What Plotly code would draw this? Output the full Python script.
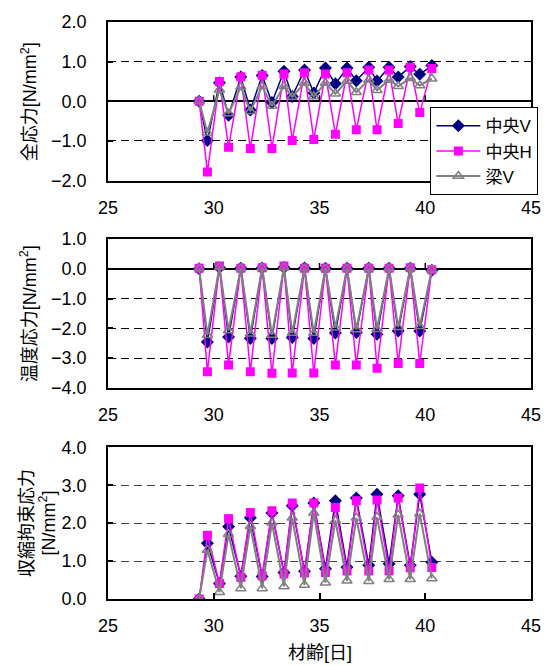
import plotly.graph_objects as go

# ---- data ----
age = [29.31, 29.70, 30.27, 30.70, 31.28, 31.73, 32.29, 32.75, 33.32, 33.71, 34.29, 34.73,
       35.28, 35.75, 36.30, 36.74, 37.33, 37.72, 38.29, 38.72, 39.29, 39.74, 40.31]

total_cv = [0, -0.99, 0.47, -0.35, 0.61, -0.22, 0.65, -0.03, 0.76, 0.12, 0.79, 0.21,
            0.84, 0.44, 0.84, 0.52, 0.86, 0.51, 0.86, 0.61, 0.88, 0.68, 0.90]
total_ch = [0, -1.78, 0.50, -1.16, 0.62, -1.19, 0.66, -1.19, 0.69, -0.99, 0.72, -0.96,
            0.69, -0.83, 0.72, -0.72, 0.79, -0.72, 0.79, -0.56, 0.86, -0.28, 0.83]
total_bv = [0, -0.79, 0.29, -0.31, 0.36, -0.25, 0.38, -0.12, 0.38, 0.11, 0.46, 0.12,
            0.46, 0.19, 0.51, 0.23, 0.54, 0.28, 0.54, 0.38, 0.58, 0.40, 0.57]

temp_cv = [0, -2.46, 0.05, -2.29, 0.02, -2.34, 0.03, -2.34, 0.05, -2.31, 0.03, -2.34,
           0.02, -2.16, 0.02, -2.14, 0.02, -2.20, 0.02, -2.09, 0.02, -2.09, -0.05]
temp_ch = [0.02, -3.46, 0.10, -3.23, 0.02, -3.46, 0.04, -3.51, 0.10, -3.50, 0.02, -3.50,
           0.02, -3.23, 0.02, -3.23, 0.02, -3.34, 0.02, -3.18, 0.04, -3.18, -0.03]
temp_bv = [0.02, -2.23, 0.07, -2.07, 0.02, -2.18, 0.04, -2.22, 0.05, -2.16, 0.02, -2.16,
           0.02, -1.98, 0.02, -2.04, 0.02, -2.03, 0.02, -1.96, 0.02, -1.93, -0.03]

shr_cv = [0, 1.47, 0.41, 1.91, 0.60, 2.14, 0.59, 2.27, 0.70, 2.46, 0.73, 2.53,
          0.80, 2.59, 0.84, 2.66, 0.89, 2.76, 0.93, 2.72, 0.89, 2.76, 0.97]
shr_ch = [0, 1.68, 0.41, 2.12, 0.57, 2.28, 0.61, 2.33, 0.66, 2.53, 0.69, 2.53,
          0.70, 2.41, 0.74, 2.59, 0.74, 2.61, 0.74, 2.66, 0.82, 2.93, 0.83]
shr_bv = [0, 1.29, 0.18, 1.71, 0.28, 1.92, 0.28, 2.01, 0.33, 2.14, 0.37, 2.27,
          0.43, 2.07, 0.48, 2.14, 0.47, 2.16, 0.52, 2.22, 0.52, 2.25, 0.54]

series_names = ["中央V", "中央H", "梁V"]
x_ticks = [25, 30, 35, 40, 45]

FONT = "Liberation Sans, Arial, Noto Sans CJK JP"
NAVY = "#000080"
MAG = "#FF00FF"
GRAY = "#808080"

styles = [
    dict(line=dict(color=NAVY, width=1.5), marker=dict(symbol="diamond", size=10, color=NAVY)),
    dict(line=dict(color=MAG, width=1.5), marker=dict(symbol="square", size=9, color=MAG)),
    dict(line=dict(color=GRAY, width=2),
         marker=dict(symbol="triangle-up-open", size=9, color=GRAY, line=dict(width=1.5, color=GRAY))),
]

panels = [
    (total_cv, total_ch, total_bv),
    (temp_cv, temp_ch, temp_bv),
    (shr_cv, shr_ch, shr_bv),
]

fig = go.Figure()
for p, data in enumerate(panels):
    ax = "" if p == 0 else str(p + 1)
    for s, ys in enumerate(data):
        fig.add_trace(go.Scatter(
            x=age, y=ys, mode="lines+markers", name=series_names[s],
            showlegend=(p == 0), xaxis="x" + ax, yaxis="y" + ax, **styles[s]))

# layout geometry (pixel-derived)
W, H = 553, 666
ML, MR, MT, MB = 108, 12, 17, 67
ph = H - MT - MB

def dom(top_px, bot_px):
    return [(H - MB - bot_px) / ph, (H - MB - top_px) / ph]

doms = [dom(17, 177), dom(236, 386), dom(446, 599)]
yranges = [[-2, 2], [-4, 1], [0, 4]]

common_x = dict(range=[25, 45], tickvals=x_ticks, showline=True, mirror=True,
                linecolor="black", linewidth=1.5, showgrid=False, zeroline=False,
                tickfont=dict(size=18, color="black", family=FONT),
                ticklabelstandoff=10)
layout = dict(width=W, height=H, margin=dict(l=ML, r=MR, t=MT, b=MB),
              paper_bgcolor="white", plot_bgcolor="white",
              font=dict(family=FONT, size=18, color="black"))

for p in range(3):
    ax = "" if p == 0 else str(p + 1)
    xa = dict(common_x, anchor="y" + ax)
    if p == 2:
        xa.update(ticks="inside", ticklen=6, tickwidth=1.5, tickcolor="black")
    else:
        xa.update(ticks="")
    layout["xaxis" + ax] = xa
    layout["yaxis" + ax] = dict(
        domain=doms[p], range=yranges[p], dtick=1, tickformat=".1f",
        anchor="x" + ax, showline=True, mirror=True, linecolor="black", linewidth=1.5,
        ticks="inside", ticklen=5, tickwidth=1.5, tickcolor="black",
        showgrid=True, gridcolor="black" if p < 2 else "#404040", gridwidth=1,
        griddash="8px,5px",
        zeroline=(p < 2), zerolinecolor="black", zerolinewidth=1.5,
        tickfont=dict(size=18, color="black", family=FONT),
        ticklabelstandoff=16)

fig.update_layout(**layout)

# ticks on the zero-crossing x axis for panels 1 and 2
shapes = []
for p, tl in [(0, 0.15), (1, 0.2)]:
    ax = "" if p == 0 else str(p + 1)
    for t in [30, 35, 40]:
        shapes.append(dict(type="line", xref="x" + ax, yref="y" + ax,
                           x0=t, x1=t, y0=0, y1=tl, line=dict(color="black", width=1.5)))
fig.update_layout(shapes=shapes)

def ymid(d):
    return (d[0] + d[1]) / 2

xtitle_px = lambda px: (px - ML) / (W - ML - MR)

annots = [
    dict(text="全応力[N/mm<sup>2</sup>]", x=xtitle_px(27), y=ymid(doms[0])),
    dict(text="温度応力[N/mm<sup>2</sup>]", x=xtitle_px(27), y=ymid(doms[1])),
    dict(text="収縮拘束応力", x=xtitle_px(25), y=ymid(doms[2])),
    dict(text="[N/mm<sup>2</sup>]", x=xtitle_px(46), y=ymid(doms[2])),
]
for a in annots:
    fig.add_annotation(xref="paper", yref="paper", textangle=-90, showarrow=False,
                       xanchor="center", yanchor="middle",
                       font=dict(size=18, color="black", family=FONT), **a)
fig.add_annotation(text="材齢[日]", xref="paper", yref="paper", x=0.5,
                   y=(H - MB - 653) / ph, showarrow=False, xanchor="center", yanchor="middle",
                   font=dict(size=18, color="black", family=FONT))

fig.update_layout(legend=dict(
    x=(438 - ML) / (W - ML - MR), y=(H - MB - 103) / ph, xanchor="left", yanchor="top",
    bgcolor="white", bordercolor="black", borderwidth=1,
    font=dict(size=17, color="black", family=FONT), tracegroupgap=0,
    itemwidth=44))

fig.write_html("out.html", config={"displayModeBar": False},
               post_script="document.body.style.margin='0px';document.body.style.overflow='hidden';")
